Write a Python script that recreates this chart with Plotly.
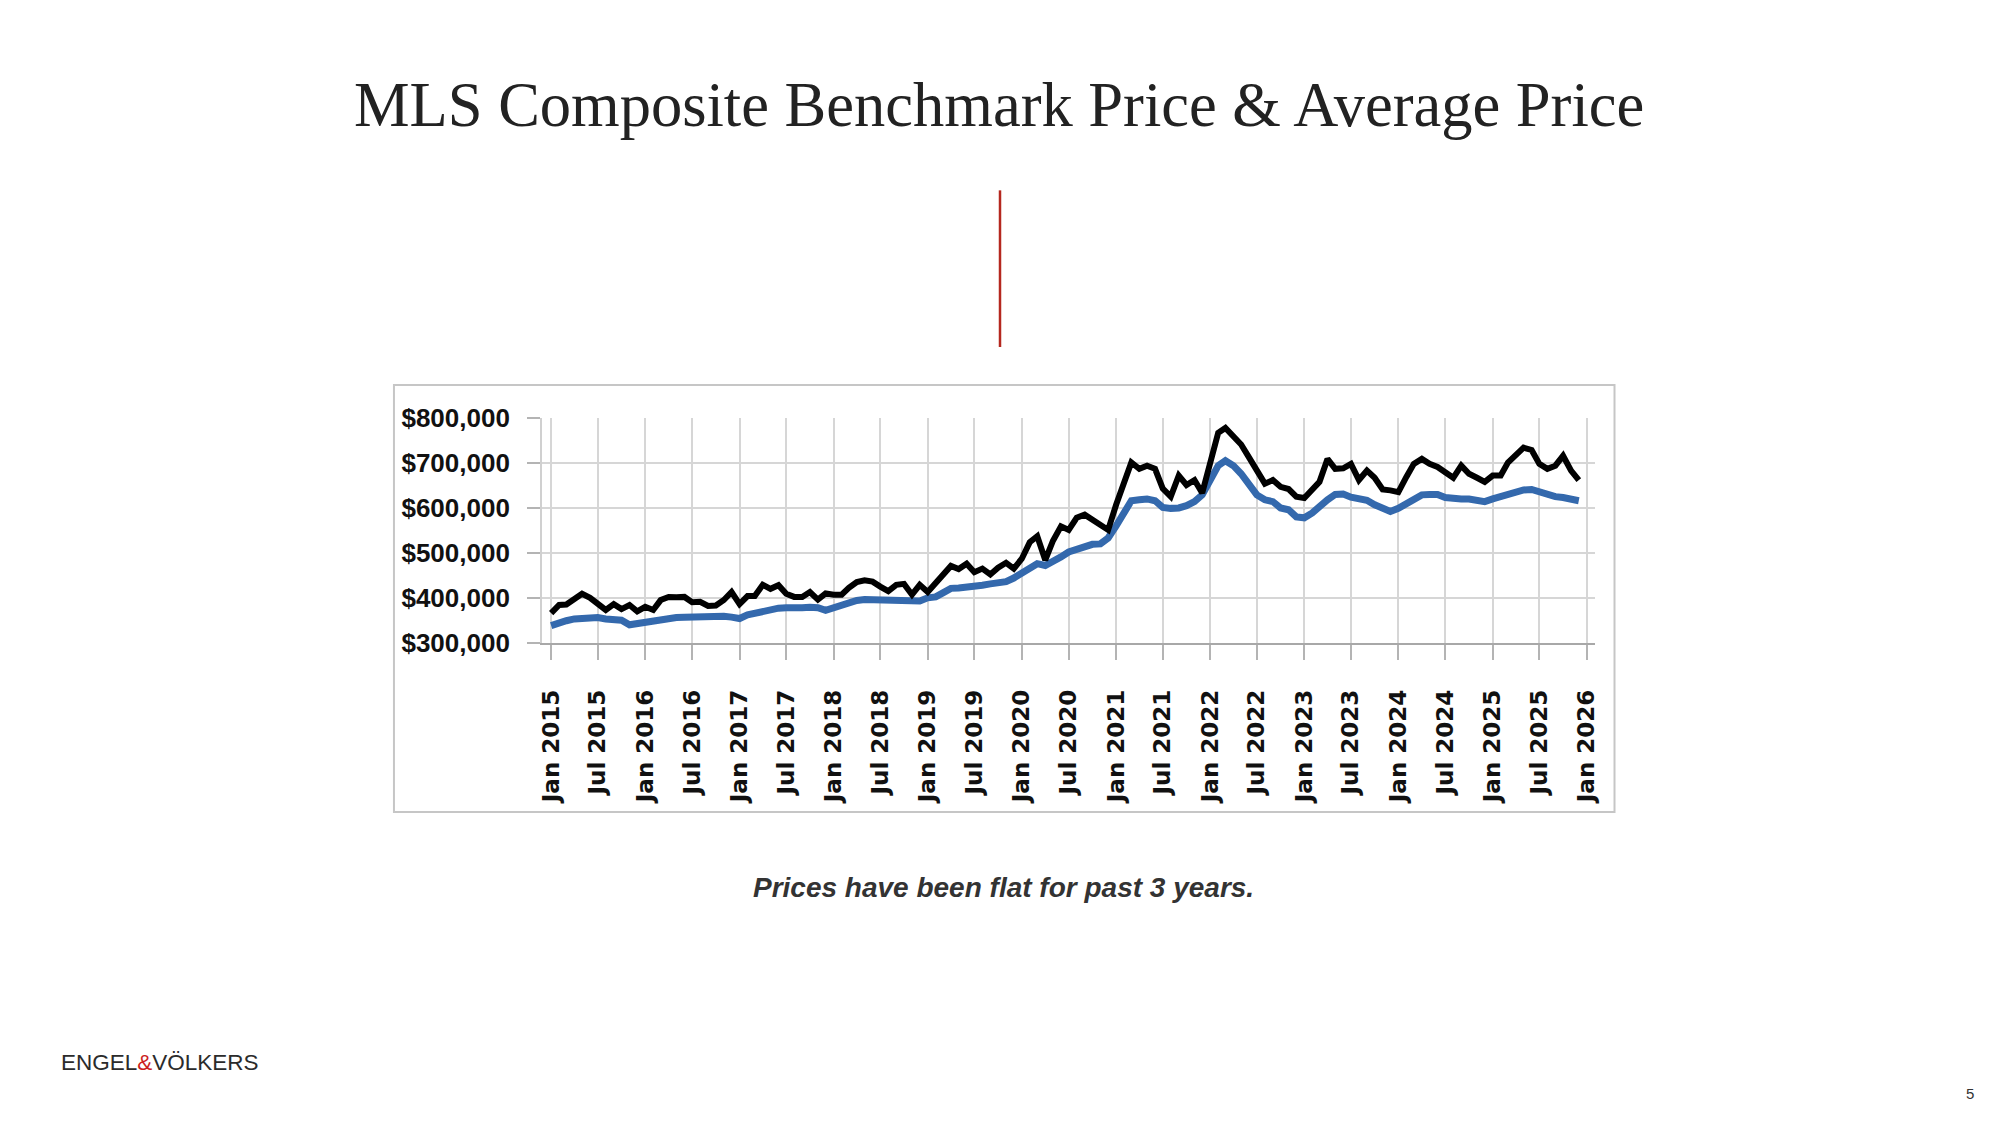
import pandas as pd
import plotly.graph_objects as go

# ---------------- data (monthly, Jan 2015 - Dec 2025) ----------------
months = pd.date_range("2015-01-01", periods=132, freq="MS")

average_price_k = [
    366, 384, 385, 397, 409, 400, 388, 373, 386, 375, 384, 370,
    380, 373, 395, 402, 401, 402, 390, 391, 382, 383, 395, 413,
    386, 404, 404, 429, 420, 428, 409, 402, 402, 413, 396, 410,
    407, 407, 422, 435, 439, 436, 425, 415, 429, 431, 407, 429,
    413, 433, 451, 471, 464, 476, 457, 465, 452, 467, 478, 465,
    487, 524, 537, 484, 527, 559, 551, 578, 585, 575, 564, 551,
    607, 658, 701, 687, 694, 687, 643, 625, 672, 651, 662, 633,
    701, 767, 778, 759, 741, 712, 680, 654, 662, 647, 642, 625,
    622, 643, 658, 709, 687, 688, 698, 662, 683, 667, 641, 639,
    635, 669, 698, 709, 698, 691, 680, 667, 694, 676, 667, 658,
    672, 672, 701, 720, 734, 729, 698, 687, 694, 716, 683, 662,
]

benchmark_price_k = [
    338, 345, 349, 353, 355, 357, 356, 353, 352, 350, 340, 343,
    346, 348, 350, 354, 356, 357, 358, 359, 360, 360, 359, 357,
    354, 362, 366, 371, 374, 377, 378, 377, 378, 379, 378, 372,
    378, 384, 389, 394, 396, 396, 395, 394, 394, 394, 393, 393,
    400, 402, 411, 421, 422, 423, 425, 428, 431, 433, 436, 444,
    455, 465, 476, 472, 480, 491, 502, 509, 516, 519, 520, 533,
    560, 593, 616, 618, 620, 616, 601, 599, 600, 605, 614, 629,
    665, 694, 705, 694, 676, 651, 629, 618, 614, 600, 596, 580,
    578, 589, 604, 618, 630, 631, 624, 622, 617, 607, 600, 592,
    599, 609, 618, 629, 630, 630, 623, 620, 620, 620, 616, 614,
    620, 625, 633, 636, 640, 641, 636, 629, 625, 623, 620, 616,
]

average_price = [v * 1000 for v in average_price_k]
benchmark_price = [v * 1000 for v in benchmark_price_k]

title_text = "MLS Composite Benchmark Price & Average Price"
caption_text = "Prices have been flat for past 3 years."

# page body has an 8px margin, so the figure is slightly smaller than the window
W, H = 1984, 1109


def px(x):
    return x / W


def py(y):
    return 1 - y / H


fig = go.Figure()
fig.add_trace(go.Scatter(
    x=months, y=benchmark_price, mode="lines",
    name="MLS Composite Benchmark Price",
    line=dict(color="#3469ad", width=7),
))
fig.add_trace(go.Scatter(
    x=months, y=average_price, mode="lines",
    name="Average Price",
    line=dict(color="#000000", width=6),
))

fig.update_layout(
    width=W, height=H,
    margin=dict(l=0, r=0, t=0, b=0),
    paper_bgcolor="white", plot_bgcolor="white",
    showlegend=False,
    xaxis=dict(
        type="date",
        domain=[px(532), px(1589.7)],
        range=["2014-11-26", "2026-02-03"],
        tick0="2015-01-01", dtick="M6", tickformat="%b %Y",
        tickangle=-90,
        ticks="outside", ticklen=15, tickwidth=1.5, tickcolor="#b4b4b4",
        showgrid=True, gridcolor="#d6d6d6", gridwidth=1.5,
        showline=True, linecolor="#a8a8a8", linewidth=1.5,
        tickfont=dict(family="DejaVu Sans", size=23, color="#111111", weight="bold"),
        ticklabelstandoff=21,
        zeroline=False,
    ),
    yaxis=dict(
        domain=[py(637), py(406)],
        range=[300000, 800000],
        dtick=100000, tickformat="$,.0f",
        ticks="outside", ticklen=13, tickwidth=1.5, tickcolor="#b4b4b4",
        showgrid=True, gridcolor="#d6d6d6", gridwidth=1.5,
        showline=True, linecolor="#d0d0d0", linewidth=1.5,
        tickfont=dict(family="Liberation Sans", size=26, color="#111111", weight="bold"),
        ticklabelstandoff=12,
        zeroline=False,
    ),
    shapes=[
        dict(type="rect", xref="paper", yref="paper",
             x0=px(383.5), x1=px(1609), y0=py(811), y1=py(372),
             line=dict(color="#c6c6c6", width=2), layer="below"),
        dict(type="line", xref="paper", yref="paper",
             x0=px(992), x1=px(992), y0=py(333), y1=py(172),
             line=dict(color="#b5281f", width=2.5)),
    ],
    annotations=[
        dict(text=title_text, xref="paper", yref="paper",
             x=px(991), y=py(84), xanchor="center", yanchor="middle",
             showarrow=False,
             font=dict(family="Liberation Serif", size=62.5, color="#222222")),
        dict(text="<b><i>" + caption_text + "</i></b>", xref="paper", yref="paper",
             x=px(996), y=py(889), xanchor="center", yanchor="middle",
             showarrow=False,
             font=dict(family="Liberation Sans", size=28, color="#333333")),
        dict(text="ENGEL<span style='color:#cc1f1f'>&amp;</span>VÖLKERS",
             xref="paper", yref="paper",
             x=px(47), y=py(1068), xanchor="left", yanchor="middle",
             showarrow=False,
             font=dict(family="Liberation Sans", size=22.5, color="#2b2b2b")),
        dict(text="5", xref="paper", yref="paper",
             x=px(1966), y=py(1100), xanchor="center", yanchor="middle",
             showarrow=False,
             font=dict(family="Liberation Sans", size=15, color="#333333")),
    ],
)

fig.write_html("out.html")
